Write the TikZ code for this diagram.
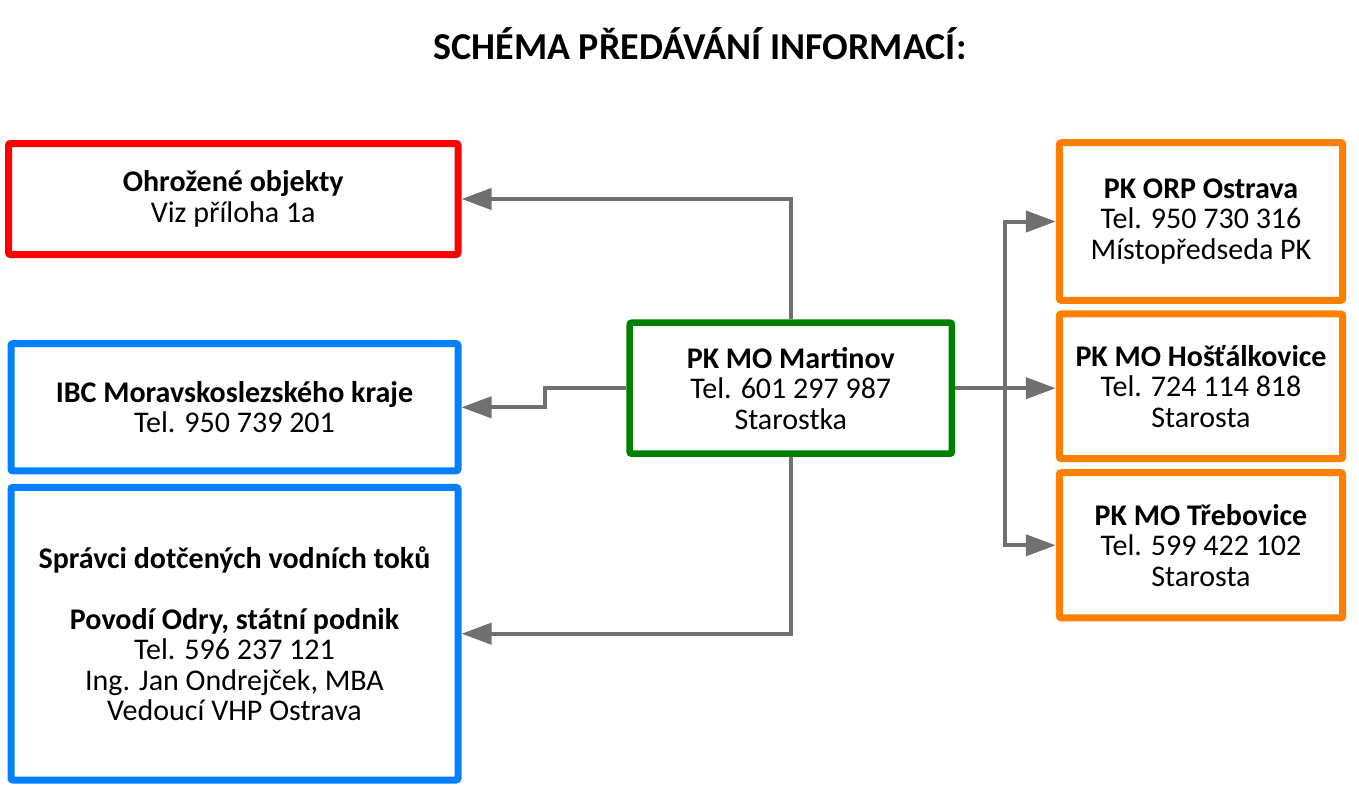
\documentclass[tikz,border=0pt]{standalone}
\usepackage{fontspec}
\setmainfont{Carlito}
\usetikzlibrary{arrows.meta}
\definecolor{cred}{RGB}{255,0,0}
\definecolor{cblue}{RGB}{0,128,255}
\definecolor{cgreen}{RGB}{0,128,0}
\definecolor{corange}{RGB}{255,128,0}
\definecolor{cconn}{RGB}{112,112,112}
\tikzset{
  box/.style={draw, line width=7pt, rounded corners=2pt, fill=white, align=center,
    inner sep=0pt, font=\fontsize{30}{30.5}\selectfont},
  conn/.style={draw=cconn, line width=4pt},
  arr/.style={conn, -{Triangle[length=30pt,width=21pt]}}
}
\begin{document}
\begin{tikzpicture}[x=1pt,y=-1pt]
\useasboundingbox (0,0) rectangle (1359,787);
\node[font=\fontsize{38}{42}\selectfont\bfseries, anchor=base] (title) at (700,59) {SCHÉMA PŘEDÁVÁNÍ INFORMACÍ:};
\node[box, draw=cred, minimum width=449.5pt, minimum height=111pt] (red) at (233.25,199)
  {\textbf{Ohrožené objekty}\\Viz příloha 1a};
\node[box, draw=cblue, minimum width=447pt, minimum height=127.3pt] (ibc) at (234.5,407.3)
  {\textbf{IBC Moravskoslezského kraje}\\Tel. 950 739 201};
\node[box, draw=cblue, minimum width=447pt, minimum height=292.7pt] (pov) at (234.5,633.7)
  {\textbf{Správci dotčených vodních toků}\\[30.5pt]\textbf{Povodí Odry, státní podnik}\\Tel. 596 237 121\\Ing. Jan Ondrejček, MBA\\Vedoucí VHP Ostrava};
\node[box, draw=cgreen, line width=6.5pt, minimum width=322.3pt, minimum height=131pt] (green) at (790.8,388.2)
  {\textbf{PK MO Martinov}\\Tel. 601 297 987\\Starostka};
\node[box, draw=corange, minimum width=283.4pt, minimum height=157.6pt] (o1) at (1201,221.5)
  {\textbf{PK ORP Ostrava}\\Tel. 950 730 316\\Místopředseda PK};
\node[box, draw=corange, minimum width=283.4pt, minimum height=144.7pt] (o2) at (1201,386.3)
  {\textbf{PK MO Hošťálkovice}\\Tel. 724 114 818\\Starosta};
\node[box, draw=corange, minimum width=283.4pt, minimum height=145.3pt] (o3) at (1201,545.3)
  {\textbf{PK MO Třebovice}\\Tel. 599 422 102\\Starosta};
\coordinate (lk) at (545,388.2);
\coordinate (tr) at (1005,388.2);
\draw[arr] (green.north) |- (red.east);
\draw[arr] (green.west) -- (lk) |- (ibc.east);
\draw[arr] (green.south) |- (pov.east);
\draw[arr] (green.east) -- (green.east -| o2.west);
\draw[arr] (tr) |- (o1.west);
\draw[arr] (tr) |- (o3.west);
\end{tikzpicture}
\end{document}
